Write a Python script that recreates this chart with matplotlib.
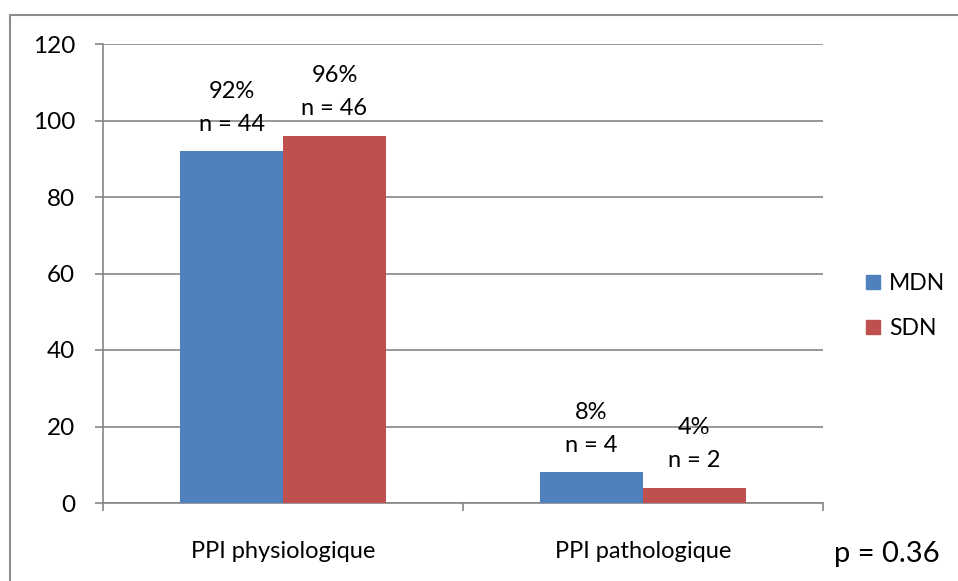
import numpy as np
import matplotlib
matplotlib.use("Agg")
import matplotlib.pyplot as plt
from matplotlib.patches import Rectangle, Patch

# Data
categories = ["PPI physiologique", "PPI pathologique"]
series_names = ["MDN", "SDN"]
mdn_values = [92, 8]
sdn_values = [96, 4]
mdn_counts = [44, 4]
sdn_counts = [46, 2]
y_ticks = [0, 20, 40, 60, 80, 100, 120]
p_text = "p = 0.36"

colors = ["#4F81BD", "#C0504D"]
grid_color = "#868686"

plt.rcParams["font.family"] = ["Lato", "DejaVu Sans"]

W, H, DPI = 958, 581, 100
fig = plt.figure(figsize=(W / DPI, H / DPI), dpi=DPI)
ax = fig.add_axes([103 / W, 1 - 503 / H, 720 / W, 459 / H])

x = np.arange(len(categories))
bw = 0.286
values = [mdn_values, sdn_values]
counts = [mdn_counts, sdn_counts]
for i, (vals, cnts) in enumerate(zip(values, counts)):
    xs = x + (i - 0.5) * bw
    ax.bar(xs, vals, width=bw, color=colors[i], zorder=3, label=series_names[i])
    for xi, v, n in zip(xs, vals, cnts):
        ax.annotate(f"n = {n}", (xi, v), xytext=(0, 27), textcoords="offset pixels",
                    ha="center", va="center", fontsize=17)
        ax.annotate(f"{v}%", (xi, v), xytext=(0, 60), textcoords="offset pixels",
                    ha="center", va="center", fontsize=17)

ax.set_xlim(-0.5, len(categories) - 0.5)
ax.set_ylim(0, 120)
ax.set_yticks(y_ticks)
ax.yaxis.grid(True, color=grid_color, linewidth=1.2, zorder=0)
ax.set_axisbelow(True)

# category labels between boundary ticks
ax.set_xticks(np.arange(len(categories) + 1) - 0.5)
ax.set_xticklabels([])
ax.set_xticks(x, minor=True)
ax.set_xticklabels(categories, minor=True, fontsize=17)
ax.tick_params(axis="x", which="minor", length=0, pad=27)
ax.tick_params(axis="x", which="major", length=6, color=grid_color, width=1.2)
ax.tick_params(axis="y", length=6, color=grid_color, width=1.2, labelsize=17.5, pad=14)

for s in ["top", "right"]:
    ax.spines[s].set_visible(False)
for s in ["left", "bottom"]:
    ax.spines[s].set_color(grid_color)
    ax.spines[s].set_linewidth(1.2)

handles = [Patch(color=c) for c in colors]
ax.legend(handles, series_names, loc="center left", bbox_to_anchor=(866 / W, 1 - 306 / H),
          bbox_transform=fig.transFigure, frameon=False, fontsize=16.5,
          handlelength=0.6, handleheight=0.6, handletextpad=0.4, labelspacing=1.05,
          borderpad=0, borderaxespad=0)

fig.text(834 / W, 1 - 554 / H, p_text, fontsize=21, ha="left", va="center")

# outer chart border (runs off the right/bottom of the image)
fig.patches.append(Rectangle((9.5 / W, -0.1), 1.2, 1 - 14.5 / H + 0.1,
                             transform=fig.transFigure, fill=False,
                             edgecolor="#8C8C8C", linewidth=1.5))

fig.savefig("out.png", dpi=DPI)
